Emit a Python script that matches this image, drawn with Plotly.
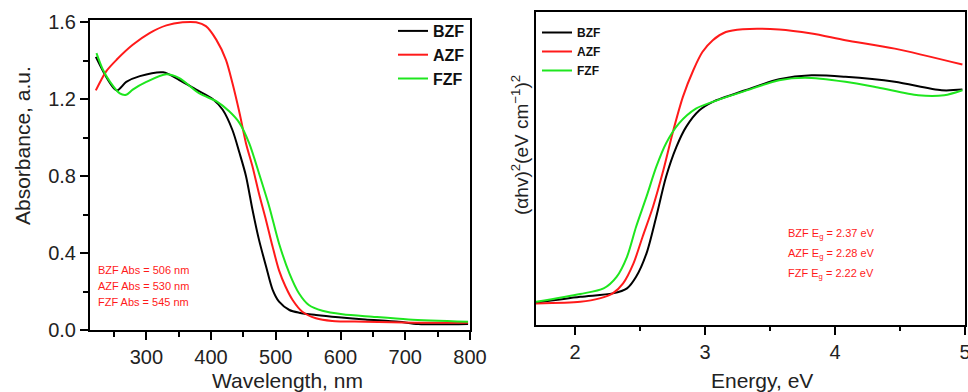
import plotly.graph_objects as go

# ---------------- data: absorbance spectra ----------------
wl_bzf = [222, 254, 269, 290, 326, 351, 377, 403, 418, 433, 444, 454, 464, 474, 485, 495, 505, 521, 536, 562, 597, 638, 690, 720, 797]
abs_bzf = [1.42, 1.246, 1.29, 1.32, 1.34, 1.30, 1.25, 1.20, 1.145, 1.04, 0.92, 0.80, 0.625, 0.47, 0.33, 0.21, 0.147, 0.104, 0.09, 0.078, 0.066, 0.055, 0.043, 0.031, 0.031]

wl_azf = [222, 238, 254, 279, 305, 331, 356, 377, 392, 408, 423, 433, 444, 454, 464, 474, 485, 495, 505, 515, 526, 541, 562, 587, 638, 715, 797]
abs_azf = [1.246, 1.345, 1.405, 1.483, 1.544, 1.584, 1.60, 1.60, 1.58, 1.51, 1.405, 1.284, 1.128, 0.97, 0.85, 0.71, 0.57, 0.434, 0.31, 0.226, 0.156, 0.095, 0.061, 0.047, 0.043, 0.038, 0.038]

wl_fzf = [223, 233, 244, 259, 269, 279, 300, 331, 351, 382, 408, 428, 444, 459, 474, 490, 505, 521, 536, 551, 572, 603, 649, 705, 797]
abs_fzf = [1.44, 1.353, 1.29, 1.23, 1.223, 1.25, 1.29, 1.33, 1.31, 1.23, 1.19, 1.137, 1.076, 0.97, 0.815, 0.64, 0.45, 0.295, 0.19, 0.13, 0.10, 0.082, 0.069, 0.055, 0.043]

# ---------------- data: Tauc plots (arbitrary units) ----------------
e_bzf = [1.70, 2.04, 2.29, 2.40, 2.47, 2.55, 2.625, 2.70, 2.78, 2.855, 2.957, 3.06, 3.31, 3.57, 3.82, 4.08, 4.46, 4.82, 4.98]
t_bzf = [7.1, 9.0, 10.1, 11.7, 15.4, 22.9, 34.6, 47.3, 56.9, 63.3, 68.6, 71.3, 75.0, 78.5, 79.8, 79.3, 77.7, 75.0, 75.2]

e_azf = [1.70, 2.04, 2.19, 2.29, 2.37, 2.45, 2.52, 2.60, 2.68, 2.75, 2.83, 2.91, 2.98, 3.06, 3.16, 3.29, 3.57, 3.82, 4.08, 4.46, 4.98]
t_azf = [6.9, 7.4, 8.5, 10.1, 13.3, 19.7, 28.2, 37.8, 49.5, 61.2, 72.9, 81.4, 87.2, 91.0, 93.6, 94.5, 94.4, 93.1, 91.0, 88.3, 83.2]

e_fzf = [1.70, 2.04, 2.22, 2.32, 2.40, 2.47, 2.55, 2.625, 2.70, 2.80, 2.93, 3.06, 3.31, 3.57, 3.77, 4.08, 4.33, 4.64, 4.84, 4.98]
t_fzf = [7.4, 9.9, 11.7, 15.4, 21.8, 31.4, 41.0, 50.5, 58.0, 64.4, 69.1, 71.3, 74.8, 78.2, 79.0, 77.7, 75.9, 73.4, 73.4, 75.0]

names = ["BZF", "AZF", "FZF"]
abs_notes = ["BZF Abs = 506 nm", "AZF Abs = 530 nm", "FZF Abs = 545 nm"]
eg_notes = ["BZF E<sub>g</sub> = 2.37 eV", "AZF E<sub>g</sub> = 2.28 eV", "FZF E<sub>g</sub> = 2.22 eV"]

BLACK = "#000000"
RED = "#ff1a1a"
GREEN = "#1ee61e"
colors = [BLACK, RED, GREEN]
FONT = "Liberation Sans, Arial, sans-serif"

fig = go.Figure()

left = [(wl_bzf, abs_bzf), (wl_azf, abs_azf), (wl_fzf, abs_fzf)]
for (x, y), n, c in zip(left, names, colors):
    fig.add_trace(go.Scatter(x=x, y=y, name=n, mode="lines",
                             line=dict(color=c, width=2, shape="spline", smoothing=0.8),
                             xaxis="x", yaxis="y", legend="legend"))

right = [(e_bzf, t_bzf), (e_azf, t_azf), (e_fzf, t_fzf)]
for (x, y), n, c in zip(right, names, colors):
    fig.add_trace(go.Scatter(x=x, y=y, name=n, mode="lines",
                             line=dict(color=c, width=2, shape="spline", smoothing=0.8),
                             xaxis="x2", yaxis="y2", legend="legend2"))

axis_common = dict(showline=True, linecolor="black", linewidth=2, mirror=True,
                   showgrid=False, zeroline=False, ticks="outside", tickcolor="black",
                   tickwidth=2, ticklen=8, automargin=False, ticklabeloverflow="allow",
                   tickfont=dict(family=FONT, size=20, color="#222"))

fig.update_layout(
    width=968, height=392,
    margin=dict(l=0, r=0, t=0, b=0),
    paper_bgcolor="white", plot_bgcolor="white",
    font=dict(family=FONT),
    xaxis=dict(domain=[90/968, 470/968], range=[213, 800], dtick=100, tick0=300,
               minor=dict(dtick=50, ticks="outside", ticklen=5, tickwidth=2, tickcolor="black"),
               anchor="y", **axis_common),
    yaxis=dict(domain=[1-330/392, 1-20/392], range=[0, 1.612], dtick=0.4, tick0=0,
               tickformat=".1f",
               minor=dict(dtick=0.2, ticks="outside", ticklen=5, tickwidth=2, tickcolor="black"),
               anchor="x", **axis_common),
    xaxis2=dict(domain=[536/968, 965/968], range=[1.7, 5.0], dtick=1, tick0=2,
                minor=dict(dtick=0.5, ticks="outside", ticklen=4, tickwidth=2, tickcolor="black"),
                anchor="y2", **axis_common),
    yaxis2=dict(domain=[1-325/392, 1-12/392], range=[0, 100], anchor="x2", automargin=False,
                showline=True, linecolor="black", linewidth=2, mirror=True,
                showgrid=False, zeroline=False, showticklabels=False, ticks=""),
    legend=dict(x=393/968, y=1-14/392, xanchor="left", yanchor="top",
                bgcolor="rgba(0,0,0,0)", tracegroupgap=0,
                font=dict(family=FONT, size=16, color="#111", weight="bold")),
    legend2=dict(x=537/968, y=1-18/392, xanchor="left", yanchor="top",
                 bgcolor="rgba(0,0,0,0)", tracegroupgap=0,
                 font=dict(family=FONT, size=12, color="#111", weight="bold")),
    showlegend=True,
)

ann = []
# axis titles
ann.append(dict(text="Absorbance, a.u.", x=22/968, y=1-146/392, xref="paper", yref="paper",
                xanchor="center", yanchor="middle",
                textangle=-90, showarrow=False, font=dict(family=FONT, size=21, color="#222")))
ann.append(dict(text="Wavelength, nm", x=287/968, y=1-380/392, xref="paper", yref="paper",
                xanchor="center", yanchor="middle",
                showarrow=False, font=dict(family=FONT, size=21, color="#222")))
ann.append(dict(text="Energy, eV", x=762/968, y=1-380/392, xref="paper", yref="paper",
                xanchor="center", yanchor="middle",
                showarrow=False, font=dict(family=FONT, size=21, color="#222")))
ann.append(dict(text="(\u03b1hv)<sup>2</sup>(eV cm<sup>\u22121</sup>)<sup>2</sup>", x=520/968, y=1-145/392,
                xref="paper", yref="paper", xanchor="center", yanchor="middle",
                textangle=-90, showarrow=False,
                font=dict(family=FONT, size=19, color="#222")))
# notes
for i, t in enumerate(abs_notes):
    ann.append(dict(text=t, x=96/968, y=1-(270 + 16*i)/392, xref="paper", yref="paper",
                    xanchor="left", yanchor="middle", showarrow=False,
                    font=dict(family=FONT, size=11, color=RED)))
for i, t in enumerate(eg_notes):
    ann.append(dict(text=t, x=786/968, y=1-(234 + 20*i)/392, xref="paper", yref="paper",
                    xanchor="left", yanchor="middle", showarrow=False,
                    font=dict(family=FONT, size=11, color=RED)))
fig.update_layout(annotations=ann)

fig.write_html("out.html")
